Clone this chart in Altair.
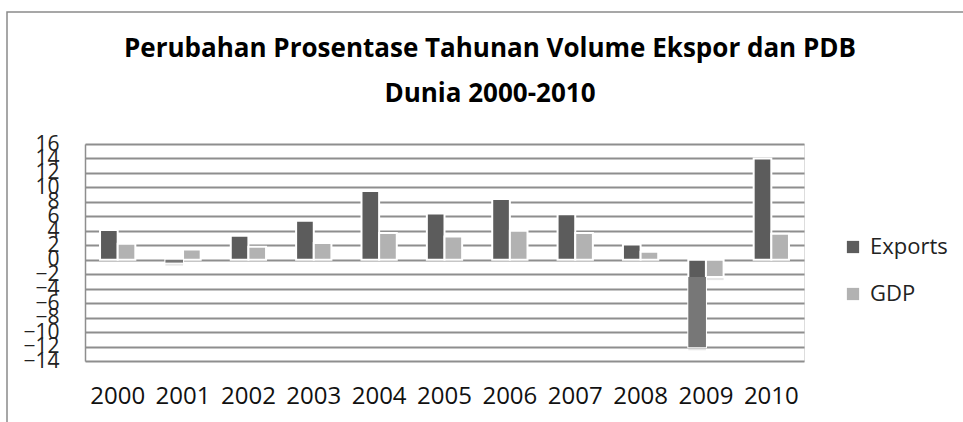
import altair as alt
import pandas as pd

# Annual % change of world export volume and GDP
years = ["2000", "2001", "2002", "2003", "2004", "2005",
         "2006", "2007", "2008", "2009", "2010"]
exports = [4.1, -0.4, 3.3, 5.4, 9.5, 6.4, 8.4, 6.3, 2.1, -12.1, 14.0]
gdp = [2.2, 1.4, 1.8, 2.3, 3.7, 3.2, 4.0, 3.7, 1.1, -2.4, 3.6]
series = ["Exports", "GDP"]
series_colors = ["#5c5c5c", "#b2b2b2"]
y_ticks = list(range(-14, 17, 2))
title_lines = ["Perubahan Prosentase Tahunan Volume Ekspor dan PDB", "Dunia 2000-2010"]

rows = []
for yr, e, g in zip(years, exports, gdp):
    rows.append({"Tahun": yr, "Seri": "Exports", "Nilai": e})
    rows.append({"Tahun": yr, "Seri": "GDP", "Nilai": g})
df = pd.DataFrame(rows)

# lower part of a falling export bar (below the GDP bar's reach) is drawn lighter
neg_rows = []
for yr, e, g in zip(years, exports, gdp):
    if e < 0:
        neg_rows.append({"Tahun": yr, "Seri": "Exports",
                         "Nilai": e, "Atas": max(e, min(0, g))})
neg_df = pd.DataFrame(neg_rows)

FONT = "Open Sans"
GRID = "#8e8e8e"

x_enc = alt.X(
    "Tahun:N", sort=years,
    scale=alt.Scale(domain=years, paddingInner=0.46, paddingOuter=0.23),
    axis=alt.Axis(title=None, labelAngle=0, domain=False, ticks=False,
                  grid=False, labelFont=FONT, labelFontSize=24,
                  labelColor="#111", labelPadding=23),
)
xoff_enc = alt.XOffset("Seri:N",
                       scale=alt.Scale(domain=series, paddingInner=0, paddingOuter=0))
y_enc = alt.Y(
    "Nilai:Q",
    scale=alt.Scale(domain=[-14, 16], nice=False, zero=False),
    axis=alt.Axis(title=None, values=y_ticks, ticks=False,
                  labelOverlap=False, labelFlush=False, labelBound=False,
                  labelFont=FONT, labelFontSize=21, labelColor="#222",
                  labelPadding=26, domainColor=GRID, domainWidth=1.5,
                  gridColor=GRID, gridWidth=2),
)

# soft drop shadow under each bar
shadow = alt.Chart(df).mark_bar(
    color="#9a9a9a", opacity=0.25, yOffset=3
).encode(x=x_enc, xOffset=xoff_enc, y=y_enc, y2=alt.datum(0))

bars = alt.Chart(df).mark_bar(stroke="white", strokeWidth=2).encode(
    x=x_enc,
    xOffset=xoff_enc,
    y=y_enc,
    y2=alt.datum(0),
    color=alt.Color(
        "Seri:N",
        scale=alt.Scale(domain=series, range=series_colors),
        legend=alt.Legend(
            title=None, orient="none", legendX=757, legendY=92,
            symbolType="square", symbolSize=150, symbolStrokeWidth=0,
            labelFont=FONT, labelFontSize=22, labelColor="#222",
            labelOffset=6, rowPadding=25,
        ),
    ),
)

neg_part = alt.Chart(neg_df).mark_bar(color="#777777").encode(
    x=x_enc, xOffset=xoff_enc, y=y_enc, y2="Atas:Q"
)

# outer chart frame
one = pd.DataFrame({"k": [0]})
frame = alt.Chart(one).mark_rect(
    filled=False, stroke="#8a8a8a", strokeWidth=1.5
).encode(x=alt.value(-78), x2=alt.value(900), y=alt.value(-132), y2=alt.value(300))

# two-line bold heading, centred over the whole chart
heading = dict(font=FONT, fontSize=26, fontWeight="bold", color="#000",
               align="center", baseline="alphabetic")
title1 = alt.Chart(one).mark_text(**heading).encode(
    x=alt.value(405), y=alt.value(-87), text=alt.value(title_lines[0]))
title2 = alt.Chart(one).mark_text(**heading).encode(
    x=alt.value(405), y=alt.value(-42), text=alt.value(title_lines[1]))

chart = alt.layer(shadow, bars, neg_part, frame, title1, title2).properties(
    width=719,
    height=217,
    autosize="none",
    padding={"left": 85, "top": 144, "right": 159, "bottom": 61},
).configure_view(strokeWidth=0).configure(background="white")

chart.save("out.html", embed_options={"renderer": "svg", "actions": False})
